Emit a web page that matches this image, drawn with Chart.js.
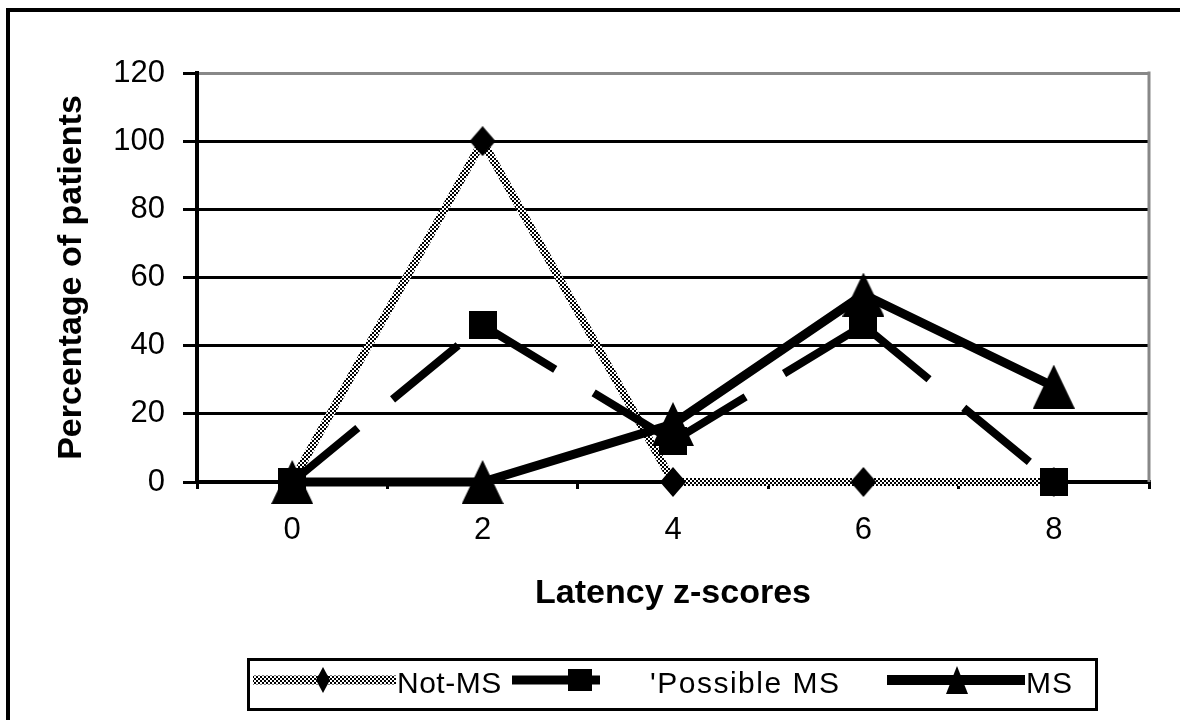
<!DOCTYPE html>
<html>
<head>
<meta charset="utf-8">
<script src="https://cdn.jsdelivr.net/npm/chart.js@4/dist/chart.umd.min.js"></script>
<style>
  html, body { margin: 0; padding: 0; background: #fff; }
  #wrap { width: 1180px; height: 720px; position: relative; }
</style>
</head>
<body>
<div id="wrap"><canvas id="c" width="1180" height="720"></canvas></div>
<script>
// ---- data ----
const categories = ['0', '2', '4', '6', '8'];
const notMS = [0, 100, 0, 0, 0];
const possibleMS = [0, 46, 12, 46, 0];
const ms = [0, 0, 17, 55, 28];
const yTicks = [0, 20, 40, 60, 80, 100, 120];
const seriesLabels = ['Not-MS', "'Possible MS", 'MS'];
const xTitle = 'Latency z-scores';
const yTitle = 'Percentage of patients';

const canvas = document.getElementById('c');
const ctx0 = canvas.getContext('2d');

function makeMarker(type, w, h) {
  const c = document.createElement('canvas');
  c.width = w; c.height = h;
  const g = c.getContext('2d');
  g.fillStyle = '#000';
  g.beginPath();
  if (type === 'diamond') {
    g.moveTo(w / 2, 0); g.lineTo(w, h / 2); g.lineTo(w / 2, h); g.lineTo(0, h / 2);
  } else if (type === 'square') {
    g.rect(0, 0, w, h);
  } else {
    g.moveTo(w / 2, 0); g.lineTo(w, h); g.lineTo(0, h);
  }
  g.closePath();
  g.fill();
  return c;
}
const pc = document.createElement('canvas');
pc.width = 4; pc.height = 4;
{
  const g = pc.getContext('2d');
  g.fillStyle = '#fff'; g.fillRect(0, 0, 4, 4);
  g.fillStyle = '#000'; g.fillRect(0, 0, 2, 2); g.fillRect(2, 2, 2, 2);
}
const checker = ctx0.createPattern(pc, 'repeat');

const mkDiamond = makeMarker('diamond', 26, 30);
const mkSquare = makeMarker('square', 28, 28);
const mkTriangle = makeMarker('triangle', 42, 44);
const lgDiamond = makeMarker('diamond', 14, 26);
const lgSquare = makeMarker('square', 24, 22);
const lgTriangle = makeMarker('triangle', 22, 28);

const framePlugin = {
  id: 'frame',
  afterDraw(chart) {
    const c = chart.ctx;
    c.save();
    c.strokeStyle = '#000';
    c.lineWidth = 4;
    c.beginPath();
    c.moveTo(8, 722); c.lineTo(8, 10); c.lineTo(1182, 10);
    c.stroke();
    c.restore();
  },
  beforeDatasetsDraw(chart) {
    const c = chart.ctx;
    const a = chart.chartArea;
    c.save();
    c.strokeStyle = '#888';
    c.lineWidth = 3;
    c.beginPath();
    c.moveTo(a.right, a.top - 1.5); c.lineTo(a.right, a.bottom);
    c.stroke();
    c.restore();
  }
};

const legendPlugin = {
  id: 'boxLegend',
  afterDraw(chart) {
    const c = chart.ctx;
    const ds = chart.data.datasets;
    c.save();
    c.strokeStyle = '#000';
    c.lineWidth = 3;
    c.strokeRect(248.5, 659.5, 848, 50);
    const cy = 684;
    const items = [
      { x0: 253, x1: 396, mx: 323, tx: 397, mk: lgDiamond, sp: 0.5 },
      { x0: 512, x1: 600, mx: 580, tx: 650, mk: lgSquare, sp: 1.5 },
      { x0: 887, x1: 1025, mx: 957, tx: 1026, mk: lgTriangle, sp: 1 }
    ];
    const lw = [9, 9, 10];
    items.forEach((it, i) => {
      const d = ds[i];
      c.strokeStyle = d.borderColor;
      c.lineWidth = lw[i];
      c.lineCap = 'butt';
      c.setLineDash([]);
      c.beginPath();
      c.moveTo(it.x0, cy - 4); c.lineTo(it.x1, cy - 4);
      c.stroke();
      c.drawImage(it.mk, it.mx - it.mk.width / 2, cy - 4 - it.mk.height / 2);
      c.fillStyle = '#000';
      c.font = '30px "Liberation Sans", Arial, sans-serif';
      c.letterSpacing = it.sp + 'px';
      c.textAlign = 'left';
      c.textBaseline = 'middle';
      c.fillText(d.label, it.tx, cy + 1);
    });
    c.restore();
  }
};

const dashSeg = { borderDashOffset: (ctx) => ctx.p0DataIndex * 0.001 };

new Chart(canvas, {
  type: 'line',
  data: {
    labels: categories,
    datasets: [
      {
        label: seriesLabels[0], data: notMS,
        borderColor: checker, borderWidth: 8,
        pointStyle: mkDiamond, pointRadius: 13, pointBackgroundColor: '#000', pointBorderColor: '#000',
        order: 2, clip: false
      },
      {
        label: seriesLabels[1], data: possibleMS,
        borderColor: '#000', borderWidth: 8, borderDash: [85, 45], borderCapStyle: 'butt',
        segment: dashSeg,
        pointStyle: mkSquare, pointRadius: 14, pointBackgroundColor: '#000', pointBorderColor: '#000',
        order: 1, clip: false
      },
      {
        label: seriesLabels[2], data: ms,
        borderColor: '#000', borderWidth: 9,
        pointStyle: mkTriangle, pointRadius: 22, pointBackgroundColor: '#000', pointBorderColor: '#000',
        order: 0, clip: false
      }
    ]
  },
  options: {
    responsive: false,
    animation: false,
    events: [],
    layout: { padding: { left: 0, top: 73, right: 29, bottom: 0 } },
    plugins: { legend: { display: false }, tooltip: { enabled: false }, title: { display: false } },
    scales: {
      x: {
        type: 'category',
        offset: true,
        afterFit(s) { s.height = 238; },
        grid: { offset: true, drawOnChartArea: false, drawTicks: true, tickLength: 7, color: '#000', lineWidth: 3 },
        border: { color: '#000', width: 4 },
        ticks: { color: '#000', padding: 23, font: { family: '"Liberation Sans", Arial, sans-serif', size: 31 }, maxRotation: 0 },
        title: {
          display: true, text: xTitle, color: '#000',
          font: { family: '"Liberation Sans", Arial, sans-serif', size: 34, weight: 'bold' },
          padding: { top: 0, bottom: 106 }
        }
      },
      y: {
        min: 0, max: 120,
        afterFit(s) { s.width = 197; },
        afterBuildTicks(s) { s.ticks = yTicks.map(v => ({ value: v })); },
        grid: {
          color: (c) => (c.tick && c.tick.value === 120 ? '#888' : '#000'),
          tickColor: '#000', lineWidth: 3, tickLength: 14, drawTicks: true
        },
        border: { color: '#000', width: 4 },
        ticks: { color: '#000', padding: 18, font: { family: '"Liberation Sans", Arial, sans-serif', size: 31 } },
        title: {
          display: true, text: yTitle, color: '#000',
          font: { family: '"Liberation Sans", Arial, sans-serif', size: 34, weight: 'bold' },
          padding: { top: 51, bottom: 0 }
        }
      }
    }
  },
  plugins: [framePlugin, legendPlugin]
});
</script>
</body>
</html>
